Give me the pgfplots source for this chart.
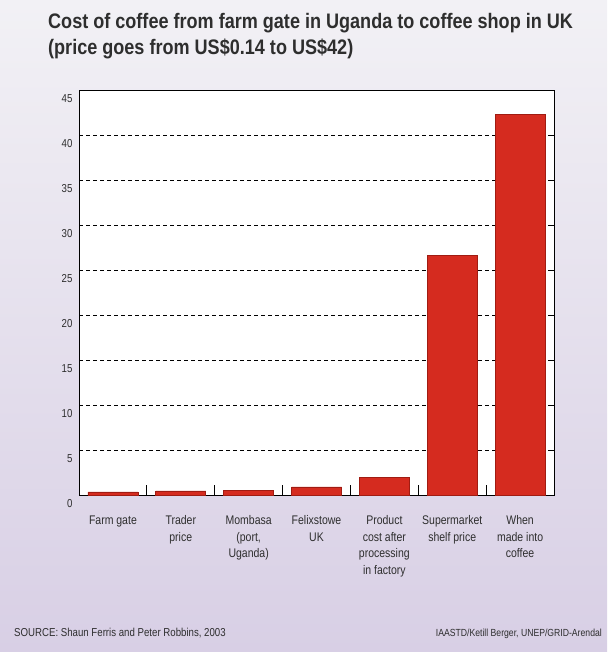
\documentclass[border=0pt]{standalone}
\usepackage{pgfplots}
\pgfplotsset{compat=1.18}
\usepackage{fontspec}
\setmainfont{Liberation Sans}[FakeStretch=0.84]
\newfontfamily\titlefont{Liberation Sans}[FakeStretch=0.86]
\definecolor{barred}{HTML}{D52B1F}
\definecolor{baredge}{HTML}{A01C12}
\definecolor{txt}{HTML}{2E2E2E}
\definecolor{bgtop}{HTML}{F2F1F5}
\definecolor{bgbot}{HTML}{D8CFE5}
\begin{document}
\begin{tikzpicture}[x=1pt,y=1pt]
\shade[top color=bgtop,bottom color=bgbot] (-79,-157) rectangle (528,495);
\begin{axis}[
  at={(0,0)}, anchor=south west,
  scale only axis, width=475pt, height=405pt,
  xmin=-0.5, xmax=6.5, ymin=0, ymax=45,
  ybar, bar width=50pt,
  axis background/.style={fill=white},
  axis line style={black, line width=0.8pt},
  ytick={0,5,...,45},
  ymajorgrids,
  major grid style={black, dashed, line width=0.6pt, dash pattern=on 4pt off 3pt},
  ytick align=inside, major tick length=4pt,
  ytick style={black, line width=0.6pt},
  xtick={0,...,6},
  major x tick style={draw=none},
  minor xtick={0.5,1.5,...,5.5},
  minor x tick style={black, line width=0.8pt},
  minor tick length=10pt,
  xtick pos=bottom, xtick align=inside,
  xticklabels={Farm gate, Trader\\price, {Mombasa\\(port,\\Uganda)}, Felixstowe\\UK, Product\\cost after\\processing\\in factory, Supermarket\\shelf price, When\\made into\\coffee},
  xticklabel style={align=center, anchor=north, yshift=-17pt, font=\fontsize{12.5}{16.5}\selectfont, text=txt},
  yticklabel style={font=\fontsize{11.5}{13}\selectfont, text=txt, yshift=-9pt, xshift=-3pt},
  /pgf/number format/assume math mode=true,
  clip=false,
]
\addplot[fill=barred, draw=baredge, line width=0.6pt] coordinates {(0,0.35) (1,0.45) (2,0.55) (3,0.9) (4,2.0) (5,26.6) (6,42.3)};
\end{axis}
\node[anchor=base west, inner sep=0, font=\titlefont\bfseries\fontsize{21}{26}\selectfont, text=txt] at (-31,466) {Cost of coffee from farm gate in Uganda to coffee shop in UK};
\node[anchor=base west, inner sep=0, font=\titlefont\bfseries\fontsize{21}{26}\selectfont, text=txt] at (-31,440) {(price goes from US\$0.14 to US\$42)};
\node[anchor=base west, inner sep=0, font=\fontsize{11.5}{13}\selectfont, text=txt] at (-65,-141) {SOURCE: Shaun Ferris and Peter Robbins, 2003};
\node[anchor=base east, inner sep=0, font=\fontsize{10.3}{12}\selectfont, text=txt] at (523,-141) {IAASTD/Ketill Berger, UNEP/GRID-Arendal};
\end{tikzpicture}
\end{document}
